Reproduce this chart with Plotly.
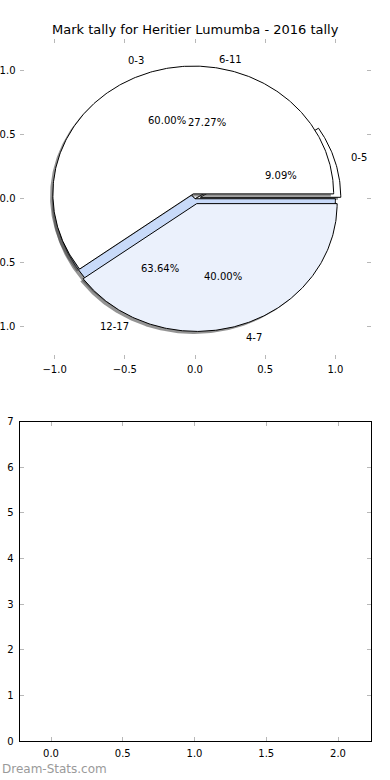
import numpy as np
import plotly.graph_objects as go

# ---------------- data ----------------
title_text = "Mark tally for Heritier Lumumba - 2016 tally"

pie2_labels = ["0-5", "6-11", "12-17"]
pie2_values = [1, 3, 7]
pie2_colors = ["#FFFFFF", "#FFFFFF", "#C8DAF9"]
pie2_explode = [0.04, 0.0, 0.0]

pie1_labels = ["0-3", "4-7"]
pie1_values = [3, 2]
pie1_colors = ["#FFFFFF", "#EBF1FC"]
pie1_explode = [0.04, 0.04]

pie_tick_vals = [-1.0, -0.5, 0.0, 0.5, 1.0]
pie_tick_text = ["\u22121.0", "\u22120.5", "0.0", "0.5", "1.0"]
bar_x_tick_vals = [0.0, 0.5, 1.0, 1.5, 2.0]
bar_x_tick_text = ["0.0", "0.5", "1.0", "1.5", "2.0"]
bar_y_tick_vals = [0, 1, 2, 3, 4, 5, 6, 7]
bar_y_tick_text = ["0", "1", "2", "3", "4", "5", "6", "7"]
watermark = "Dream-Stats.com"

# ---------------- geometry helpers ----------------
RADIUS = 1.0
LABEL_DIST = 1.1
PCT_DIST = 0.6
SHADOW_OFF = (-0.02, -0.02)
FONT = "DejaVu Sans"


def wedges(values, explode):
    vals = np.asarray(values, dtype=float)
    frac = vals / vals.sum()
    out = []
    t1 = 0.0
    for f, e in zip(frac, explode):
        t2 = t1 + 360.0 * f
        tm = np.radians((t1 + t2) / 2.0)
        cx, cy = e * np.cos(tm), e * np.sin(tm)
        n = max(12, int(abs(t2 - t1) * 1.5))
        th = np.radians(np.linspace(t1, t2, n))
        xs = np.concatenate([[cx], cx + RADIUS * np.cos(th), [cx]])
        ys = np.concatenate([[cy], cy + RADIUS * np.sin(th), [cy]])
        out.append(dict(x=xs, y=ys, cx=cx, cy=cy, tm=tm, frac=f))
        t1 = t2
    return out


fig = go.Figure()

w2 = wedges(pie2_values, pie2_explode)
w1 = wedges(pie1_values, pie1_explode)


def add_pie(ws, colors):
    for w in ws:
        fig.add_trace(go.Scatter(
            x=w["x"] + SHADOW_OFF[0], y=w["y"] + SHADOW_OFF[1],
            mode="lines", fill="toself", fillcolor="rgba(60,60,60,0.55)",
            line=dict(width=0, color="rgba(0,0,0,0)"),
            hoverinfo="skip", showlegend=False, xaxis="x", yaxis="y"))
    for w, c in zip(ws, colors):
        fig.add_trace(go.Scatter(
            x=w["x"], y=w["y"], mode="lines", fill="toself", fillcolor=c,
            line=dict(width=1, color="black"),
            hoverinfo="skip", showlegend=False, xaxis="x", yaxis="y"))


add_pie(w2, pie2_colors)
add_pie(w1, pie1_colors)

# empty lower axes (no bars in the reference)
fig.add_trace(go.Scatter(x=[], y=[], mode="markers", showlegend=False,
                         hoverinfo="skip", xaxis="x2", yaxis="y2"))

annotations = []


def add_labels(ws, labels):
    for w, lab in zip(ws, labels):
        xt = w["cx"] + LABEL_DIST * RADIUS * np.cos(w["tm"])
        yt = w["cy"] + LABEL_DIST * RADIUS * np.sin(w["tm"])
        annotations.append(dict(
            x=xt, y=yt, xref="x", yref="y", text=lab, showarrow=False,
            xanchor="left" if xt > 0 else "right", yanchor="middle",
            font=dict(family=FONT, size=10, color="black")))
        xp = w["cx"] + PCT_DIST * RADIUS * np.cos(w["tm"])
        yp = w["cy"] + PCT_DIST * RADIUS * np.sin(w["tm"])
        annotations.append(dict(
            x=xp, y=yp, xref="x", yref="y", text="%.2f%%" % (100 * w["frac"]),
            showarrow=False, xanchor="center", yanchor="middle",
            font=dict(family=FONT, size=10, color="black")))


add_labels(w2, pie2_labels)
add_labels(w1, pie1_labels)

annotations.append(dict(
    x=0.5, y=1 - 30 / 780, xref="paper", yref="paper", text=title_text,
    showarrow=False, xanchor="center", yanchor="middle",
    font=dict(family=FONT, size=13, color="black")))
annotations.append(dict(
    x=0.0, y=1 - 769 / 780, xref="paper", yref="paper", text=watermark,
    showarrow=False, xanchor="left", yanchor="middle",
    font=dict(family=FONT, size=12, color="#9a9a9a")))

tick_common = dict(ticks="inside", ticklen=4, tickwidth=1, tickcolor="#b8b8b8",
                   showgrid=False, zeroline=False, automargin=False,
                   tickfont=dict(family=FONT, size=10, color="black"),
                   ticklabelstandoff=3)

fig.update_layout(
    width=390, height=780,
    margin=dict(l=0, r=0, t=0, b=0),
    paper_bgcolor="white", plot_bgcolor="white",
    showlegend=False,
    annotations=annotations,
    xaxis=dict(domain=[0.05, 0.95], anchor="y", range=[-1.25, 1.25],
               tickvals=pie_tick_vals, ticktext=pie_tick_text,
               showline=False, mirror="ticks", **tick_common),
    yaxis=dict(domain=[1 - 358.5 / 780, 1 - 39 / 780], anchor="x",
               range=[-1.25, 1.25],
               tickvals=pie_tick_vals, ticktext=pie_tick_text,
               showline=False, mirror="ticks", **tick_common),
    xaxis2=dict(domain=[0.05, 0.95], anchor="y2", range=[-0.2195, 2.2265],
                tickvals=bar_x_tick_vals, ticktext=bar_x_tick_text,
                showline=True, linecolor="black", linewidth=1, mirror="ticks",
                **tick_common),
    yaxis2=dict(domain=[0.05, 1 - 421.5 / 780], anchor="x2", range=[0, 7],
                tickvals=bar_y_tick_vals, ticktext=bar_y_tick_text,
                showline=True, linecolor="black", linewidth=1, mirror="ticks",
                **tick_common),
)

fig.write_html("out.html",
               config={"displayModeBar": False},
               post_script="document.body.style.margin='0';")
